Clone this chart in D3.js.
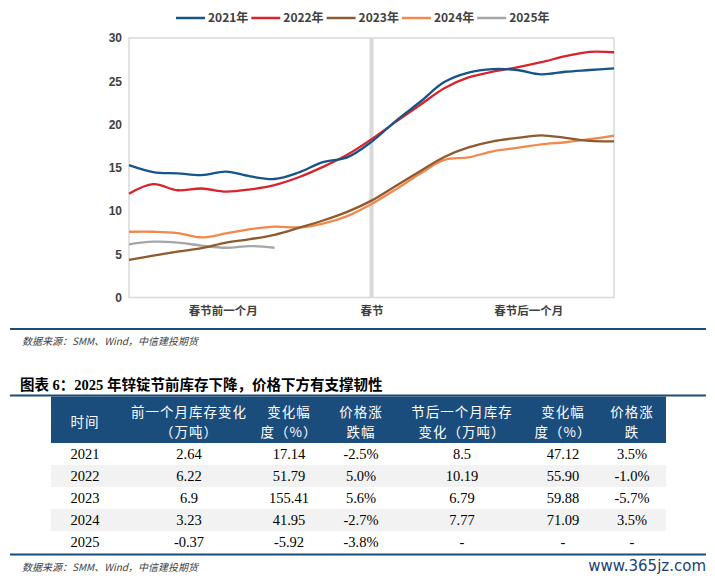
<!DOCTYPE html>
<html><head><meta charset="utf-8">
<script src="https://cdn.jsdelivr.net/npm/d3@7"></script>
<style>
html,body{margin:0;padding:0;background:#fff;}
svg{display:block;}
</style></head>
<body>
<svg id="c" width="715" height="579"></svg>
<script>
// ---------- chart data ----------
const days = [-30,-27,-24,-21,-18,-15,-12,-9,-6,-3,0,3,6,9,12,15,18,21,24,27,30];
const seriesNames = ["2021年","2022年","2023年","2024年","2025年"];
const v2021 = [15.3,14.5,14.35,14.15,14.55,14.0,13.7,14.45,15.65,16.2,18.0,20.4,22.6,24.9,26.0,26.4,26.3,25.8,26.1,26.3,26.5];
const v2022 = [12.0,13.1,12.4,12.6,12.25,12.5,13.0,13.9,15.1,16.5,18.3,20.3,22.25,24.2,25.45,26.1,26.6,27.2,27.9,28.4,28.35];
const v2023 = [4.35,4.85,5.3,5.7,6.35,6.75,7.25,8.05,8.9,9.9,11.2,12.9,14.6,16.25,17.35,18.05,18.45,18.75,18.45,18.1,18.05];
const v2024 = [7.6,7.6,7.45,6.95,7.4,7.9,8.2,8.1,8.55,9.4,10.8,12.5,14.3,15.9,16.2,16.9,17.3,17.7,17.95,18.3,18.7];
const v2025 = [6.15,6.45,6.35,6.0,5.75,5.95,5.75,null,null,null,null,null,null,null,null,null,null,null,null,null,null];
const seriesColors = ["#175487","#d9232d","#8f5a2e","#f4874b","#a6a6a6"];
const yTicks = [0,5,10,15,20,25,30];
const xTickPos = [-18.4,0,19.4];
const xTickLabels = ["春节前一个月","春节","春节后一个月"];

// ---------- table data ----------
const headLine1 = ["时间","前一个月库存变化","变化幅","价格涨","节后一个月库存","变化幅","价格涨"];
const headLine2 = ["","（万吨）","度（%）","跌幅","变化（万吨）","度（%）","跌"];
const tYears = ["2021","2022","2023","2024","2025"];
const preChange = ["2.64","6.22","6.9","3.23","-0.37"];
const prePct = ["17.14","51.79","155.41","41.95","-5.92"];
const prePrice = ["-2.5%","5.0%","5.6%","-2.7%","-3.8%"];
const postChange = ["8.5","10.19","6.79","7.77","-"];
const postPct = ["47.12","55.90","59.88","71.09","-"];
const postPrice = ["3.5%","-1.0%","-5.7%","3.5%","-"];

const titleText = "图表 6：2025 年锌锭节前库存下降，价格下方有支撑韧性";
const sourceText = "数据来源：SMM、Wind，中信建投期货";

const svg = d3.select("#c");
const cjk = "'Noto Sans CJK SC','Noto Sans',sans-serif";
const serif = "'Liberation Serif','Noto Sans CJK SC',serif";
const navy = "#1b4d7c";

// ---------- chart ----------
const x = d3.scaleLinear().domain([-30,30]).range([129,614]);
const y = d3.scaleLinear().domain([0,30]).range([297.5,38]);

svg.append("rect").attr("x",x(-30)).attr("y",y(30)).attr("width",x(30)-x(-30)).attr("height",y(0)-y(30))
  .attr("fill","none").attr("stroke","#d9d9d9").attr("stroke-width",1.5);
svg.append("line").attr("x1",x(0)).attr("x2",x(0)).attr("y1",y(30)).attr("y2",y(0))
  .attr("stroke","#d9d9d9").attr("stroke-width",4);

const yAxis = svg.append("g").attr("transform",`translate(${x(-30)},0)`)
  .call(d3.axisLeft(y).tickValues(yTicks).tickSize(0).tickPadding(7));
yAxis.select(".domain").remove();
yAxis.selectAll("text").attr("font-family","'Liberation Sans',sans-serif").attr("font-weight","bold")
  .attr("font-size",12).attr("fill","#404040");

const xAxis = svg.append("g").attr("transform",`translate(0,${y(0)})`)
  .call(d3.axisBottom(x).tickValues(xTickPos).tickFormat((d,i)=>xTickLabels[i]).tickSize(0).tickPadding(9));
xAxis.select(".domain").remove();
xAxis.selectAll("text").attr("font-family",cjk).attr("font-weight","bold")
  .attr("font-size",11.5).attr("fill","#404040");

const allSeries = [v2021,v2022,v2023,v2024,v2025];
const line = d3.line().defined(d=>d[1]!=null).x(d=>x(d[0])).y(d=>y(d[1])).curve(d3.curveCatmullRom.alpha(0.5));
[4,3,2,1,0].forEach(i=>{
  const pts = days.map((d,j)=>[d,allSeries[i][j]]);
  svg.append("path").attr("d",line(pts)).attr("fill","none")
    .attr("stroke",seriesColors[i]).attr("stroke-width",2.3).attr("stroke-linejoin","round");
});

// legend
const legX0 = 176, legStep = 75.3, legY = 18;
seriesNames.forEach((n,i)=>{
  const gx = legX0 + i*legStep;
  svg.append("line").attr("x1",gx).attr("x2",gx+29).attr("y1",legY).attr("y2",legY)
    .attr("stroke",seriesColors[i]).attr("stroke-width",2.5);
  svg.append("text").attr("x",gx+32).attr("y",legY).attr("dy","0.36em")
    .attr("font-family",cjk).attr("font-weight","bold").attr("font-size",12).attr("fill","#404040").text(n);
});

// separator + source
svg.append("line").attr("x1",10).attr("x2",706).attr("y1",329).attr("y2",329).attr("stroke",navy).attr("stroke-width",2);
svg.append("text").attr("x",22).attr("y",345).attr("font-family",cjk).attr("font-style","italic")
  .attr("font-size",10).attr("fill","#404040").text(sourceText);

// title
svg.append("text").attr("x",20).attr("y",390).attr("font-family",serif).attr("font-weight","bold")
  .attr("font-size",14.5).attr("fill","#000").text(titleText);
svg.append("line").attr("x1",10).attr("x2",706).attr("y1",395.5).attr("y2",395.5).attr("stroke",navy).attr("stroke-width",2);

// ---------- table ----------
const colX = [85,189,289,361,462,563,632];
const tLeft = 51, tRight = 666, headTop = 396.5, headBot = 443, rowH = 22;
svg.append("rect").attr("x",tLeft).attr("y",headTop).attr("width",tRight-tLeft).attr("height",headBot-headTop).attr("fill",navy);
headLine1.forEach((t,i)=>{
  const two = headLine2[i] !== "";
  svg.append("text").attr("x",colX[i]).attr("y",two?412:422).attr("dy","0.36em").attr("text-anchor","middle")
    .attr("font-family",cjk).attr("font-size",13.5).attr("letter-spacing",1).attr("fill","#fff").text(t);
  if(two) svg.append("text").attr("x",colX[i]).attr("y",432).attr("dy","0.36em").attr("text-anchor","middle")
    .attr("font-family",cjk).attr("font-size",13.5).attr("letter-spacing",1).attr("fill","#fff").text(headLine2[i]);
});
const cols = [tYears,preChange,prePct,prePrice,postChange,postPct,postPrice];
tYears.forEach((yr,r)=>{
  const top = headBot + r*rowH;
  if(r%2===1) svg.append("rect").attr("x",tLeft).attr("y",top).attr("width",tRight-tLeft).attr("height",rowH).attr("fill","#f2f2f2");
  cols.forEach((c,i)=>{
    svg.append("text").attr("x",colX[i]).attr("y",top+rowH/2).attr("dy","0.36em").attr("text-anchor","middle")
      .attr("font-family",serif).attr("font-size",14.5).attr("fill","#000").text(c[r]);
  });
});
svg.append("line").attr("x1",10).attr("x2",706).attr("y1",554.5).attr("y2",554.5).attr("stroke",navy).attr("stroke-width",2);
svg.append("text").attr("x",22).attr("y",571).attr("font-family",cjk).attr("font-style","italic")
  .attr("font-size",10).attr("fill","#404040").text(sourceText);
svg.append("text").attr("x",706).attr("y",571).attr("text-anchor","end").attr("font-family","'DejaVu Sans',sans-serif")
  .attr("font-size",15).attr("fill","#1d3f73").text("www.365jz.com");
</script>
</body></html>
